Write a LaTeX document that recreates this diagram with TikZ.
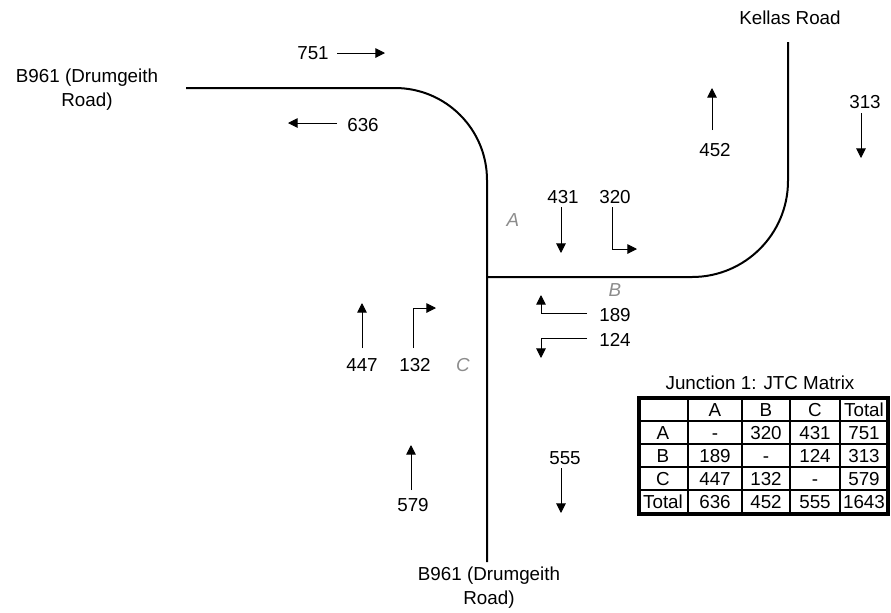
\documentclass[tikz,border=0pt]{standalone}
\usepackage{fontspec}
\setmainfont{Liberation Sans}
\usetikzlibrary{arrows.meta}
\definecolor{armgrey}{HTML}{8C8C8C}
\tikzset{
  road/.style={draw=black,line width=1pt},
  flow/.style={-{Triangle[length=4.8pt,width=4.8pt]},draw=black,line width=0.5pt},
  count/.style={font=\fontsize{9.4}{11}\selectfont,inner sep=0pt},
  arm/.style={font=\fontsize{9.4}{11}\selectfont\itshape,text=armgrey,inner sep=0pt},
  roadname/.style={font=\fontsize{9.4}{12}\selectfont,align=center,inner sep=0pt},
  cell/.style={font=\fontsize{9.4}{11}\selectfont,inner sep=0pt,text height=6.7pt,text depth=0pt},
  gridout/.style={line width=2.2pt},
  gridin/.style={line width=1.3pt}
}

\begin{document}
\begin{tikzpicture}[x=0.5pt,y=-0.5pt]
  \useasboundingbox (0,0) rectangle (891,612);
  % roads
  \draw[road,rounded corners=46pt] (186,88) -- (487,88) -- (487,562);
  \draw[road,rounded corners=48pt] (487,277) -- (788,277) -- (788,42);
  \node[roadname] (west) at (87,90) {B961 (Drumgeith\\Road)};
  \node[roadname] (south) at (489,588) {B961 (Drumgeith\\Road)};
  \node[roadname] (north) at (790,18) {Kellas Road};
  % arms
  \node[arm] (armA) at (513,220) {A};
  \node[arm] (armB) at (615,290) {B};
  \node[arm] (armC) at (463,365) {C};
  % arm A
  \node[count] (ina) at (313,53) {751};
  \draw[flow] (337,53) -- (385,53);
  \node[count] (outa) at (363,125) {636};
  \draw[flow] (337,123) -- (288,123);
  \node[count] (ac) at (563,197) {431};
  \draw[flow] (561,207) -- (561,253);
  \node[count] (ab) at (615,197) {320};
  \draw[flow] (612,207) |- (637,249);
  % arm B
  \node[count] (outb) at (715,150) {452};
  \draw[flow] (712,130) -- (712,88);
  \node[count] (inb) at (865,102) {313};
  \draw[flow] (861,113) -- (861,158);
  \node[count] (ba) at (615,315) {189};
  \draw[flow] (587,313) -| (541,295);
  \node[count] (bc) at (615,340) {124};
  \draw[flow] (587,338) -| (541,358);
  % arm C
  \node[count] (ca) at (362,365) {447};
  \draw[flow] (362,348) -- (362,303);
  \node[count] (cb) at (415,365) {132};
  \draw[flow] (413,348) |- (436,308);
  \node[count] (inc) at (413,505) {579};
  \draw[flow] (411,490) -- (411,445);
  \node[count] (outc) at (565,458) {555};
  \draw[flow] (561,468) -- (561,513);
  % matrix
  \node[cell] (title) at (760,383) {Junction 1: JTC Matrix};
  \foreach \x in {688,742,790,840} \draw[gridin] (\x,398) -- (\x,514);
  \foreach \y in {421,444,467,490} \draw[gridin] (639,\y) -- (888,\y);
  \draw[gridout] (639,398) rectangle (888,514);
  \foreach \x/\t [count=\j] in {663/{},715/A,766/B,815/C,864/Total}
    \node[cell] (m-0-\j) at (\x,409.5) {\t};
  \foreach \x/\t [count=\j] in {663/A,715/-,766/320,815/431,864/751}
    \node[cell] (m-1-\j) at (\x,432.5) {\t};
  \foreach \x/\t [count=\j] in {663/B,715/189,766/-,815/124,864/313}
    \node[cell] (m-2-\j) at (\x,455.5) {\t};
  \foreach \x/\t [count=\j] in {663/C,715/447,766/132,815/-,864/579}
    \node[cell] (m-3-\j) at (\x,478.5) {\t};
  \foreach \x/\t [count=\j] in {663/Total,715/636,766/452,815/555,864/1643}
    \node[cell] (m-4-\j) at (\x,502) {\t};
\end{tikzpicture}
\end{document}
